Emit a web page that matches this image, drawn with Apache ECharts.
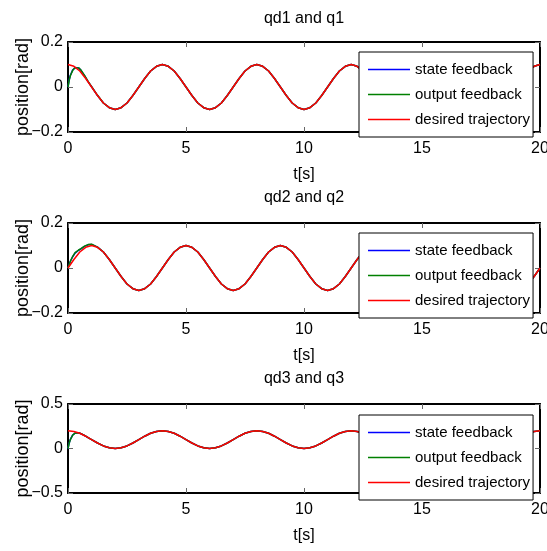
<!DOCTYPE html>
<html lang="en">
<head>
<meta charset="UTF-8">
<title>qd and q</title>
<script src="https://cdn.jsdelivr.net/npm/echarts@6/dist/echarts.min.js"></script>
<style>
    html, body {margin: 0; padding: 0; background: #fff;}
    #main {width: 547px; height: 551px;}
</style>
</head>
<body>
<div id="main"></div>
<script>
    // time axis of the desired trajectories, step 0.25 s
    const t = [
        0, 0.25, 0.5, 0.75, 1, 1.25, 1.5, 1.75, 2, 2.25, 2.5, 2.75, 3, 3.25, 3.5, 3.75,
        4, 4.25, 4.5, 4.75, 5, 5.25, 5.5, 5.75, 6, 6.25, 6.5, 6.75, 7, 7.25, 7.5, 7.75,
        8, 8.25, 8.5, 8.75, 9, 9.25, 9.5, 9.75, 10, 10.25, 10.5, 10.75, 11, 11.25, 11.5, 11.75,
        12, 12.25, 12.5, 12.75, 13, 13.25, 13.5, 13.75, 14, 14.25, 14.5, 14.75, 15, 15.25, 15.5, 15.75,
        16, 16.25, 16.5, 16.75, 17, 17.25, 17.5, 17.75, 18, 18.25, 18.5, 18.75, 19, 19.25, 19.5, 19.75,
        20
    ];
    const qd1 = [
        0.1, 0.092, 0.071, 0.038, 0, -0.038, -0.071, -0.092, -0.1, -0.092, -0.071, -0.038, 0, 0.038, 0.071, 0.092,
        0.1, 0.092, 0.071, 0.038, 0, -0.038, -0.071, -0.092, -0.1, -0.092, -0.071, -0.038, 0, 0.038, 0.071, 0.092,
        0.1, 0.092, 0.071, 0.038, 0, -0.038, -0.071, -0.092, -0.1, -0.092, -0.071, -0.038, 0, 0.038, 0.071, 0.092,
        0.1, 0.092, 0.071, 0.038, 0, -0.038, -0.071, -0.092, -0.1, -0.092, -0.071, -0.038, 0, 0.038, 0.071, 0.092,
        0.1, 0.092, 0.071, 0.038, 0, -0.038, -0.071, -0.092, -0.1, -0.092, -0.071, -0.038, 0, 0.038, 0.071, 0.092,
        0.1
    ];
    const qd2 = [
        0, 0.038, 0.071, 0.092, 0.1, 0.092, 0.071, 0.038, 0, -0.038, -0.071, -0.092, -0.1, -0.092, -0.071, -0.038,
        0, 0.038, 0.071, 0.092, 0.1, 0.092, 0.071, 0.038, 0, -0.038, -0.071, -0.092, -0.1, -0.092, -0.071, -0.038,
        0, 0.038, 0.071, 0.092, 0.1, 0.092, 0.071, 0.038, 0, -0.038, -0.071, -0.092, -0.1, -0.092, -0.071, -0.038,
        0, 0.038, 0.071, 0.092, 0.1, 0.092, 0.071, 0.038, 0, -0.038, -0.071, -0.092, -0.1, -0.092, -0.071, -0.038,
        0, 0.038, 0.071, 0.092, 0.1, 0.092, 0.071, 0.038, 0, -0.038, -0.071, -0.092, -0.1, -0.092, -0.071, -0.038,
        0
    ];
    const qd3 = [
        0.2, 0.192, 0.171, 0.138, 0.1, 0.062, 0.029, 0.008, 0, 0.008, 0.029, 0.062, 0.1, 0.138, 0.171, 0.192,
        0.2, 0.192, 0.171, 0.138, 0.1, 0.062, 0.029, 0.008, 0, 0.008, 0.029, 0.062, 0.1, 0.138, 0.171, 0.192,
        0.2, 0.192, 0.171, 0.138, 0.1, 0.062, 0.029, 0.008, 0, 0.008, 0.029, 0.062, 0.1, 0.138, 0.171, 0.192,
        0.2, 0.192, 0.171, 0.138, 0.1, 0.062, 0.029, 0.008, 0, 0.008, 0.029, 0.062, 0.1, 0.138, 0.171, 0.192,
        0.2, 0.192, 0.171, 0.138, 0.1, 0.062, 0.029, 0.008, 0, 0.008, 0.029, 0.062, 0.1, 0.138, 0.171, 0.192,
        0.2
    ];

    // start-up of the feedback responses (after that they lie on the desired curve)
    const tStart = [0, 0.05, 0.1, 0.2, 0.3, 0.36, 0.45, 0.55, 0.7, 0.85, 1, 1.25];
    const q1State  = [0, 0.032, 0.052, 0.076, 0.087, 0.09, 0.085, 0.074, 0.05, 0.024, 0.001, -0.038];
    const q1Output = [0, 0.03, 0.05, 0.074, 0.086, 0.09, 0.085, 0.075, 0.052, 0.025, 0.002, -0.037];
    const q2State  = [0, 0.015, 0.03, 0.05, 0.066, 0.074, 0.079, 0.085, 0.096, 0.103, 0.105, 0.093];
    const q2Output = [0, 0.015, 0.03, 0.052, 0.068, 0.075, 0.08, 0.086, 0.097, 0.104, 0.106, 0.093];
    const q3State  = [0, 0.062, 0.102, 0.152, 0.173, 0.18, 0.177, 0.166, 0.146, 0.122, 0.1, 0.062];
    const q3Output = [0, 0.06, 0.1, 0.15, 0.172, 0.18, 0.178, 0.167, 0.147, 0.122, 0.1, 0.062];

    const titles = ['qd1 and q1', 'qd2 and q2', 'qd3 and q3'];
    const legendNames = ['state feedback', 'output feedback', 'desired trajectory'];
    const yMin = [-0.2, -0.2, -0.5];
    const yMax = [0.2, 0.2, 0.5];
    const yStep = [0.2, 0.2, 0.5];

    const font = "'Liberation Sans', Arial, sans-serif";
    const gridTop = [42, 223, 404];
    const gridH = [90, 90, 89];
    const legendTop = [52, 233, 415];
    const titleTop = [11, 190, 371];

    function pairs(ts, vs) {
        return ts.map((x, i) => [x, vs[i]]);
    }
    // start-up part followed by the desired points after it
    function response(ts, vs, des) {
        const end = ts[ts.length - 1];
        return pairs(ts, vs).concat(pairs(t, des).filter(p => p[0] > end));
    }

    const desired = [qd1, qd2, qd3];
    const state = [q1State, q2State, q3State];
    const output = [q1Output, q2Output, q3Output];
    const colors = ['#0000ff', '#008000', '#ff0000'];

    const option = {
        animation: false,
        backgroundColor: '#fff',
        title: [], grid: [], xAxis: [], yAxis: [], legend: [], series: []
    };

    const tick = {inside: true, length: 5, lineStyle: {color: '#666', width: 1}};
    const border = {show: true, onZero: false, lineStyle: {color: '#000', width: 2}};

    for (let i = 0; i < 3; i++) {
        option.title.push({
            text: titles[i], left: 304, top: titleTop[i], textAlign: 'center', padding: 0,
            textStyle: {fontFamily: font, fontSize: 16, fontWeight: 'normal', color: '#000'}
        });
        option.grid.push({
            left: 68, top: gridTop[i], width: 472, height: gridH[i],
            outerBoundsMode: 'none', containLabel: false
        });
        // bottom and left axes carry the labels
        option.xAxis.push({
            gridIndex: i, type: 'value', min: 0, max: 20, interval: 5,
            axisLine: border, axisTick: tick, splitLine: {show: false},
            axisLabel: {color: '#000', fontFamily: font, fontSize: 16, margin: 9},
            name: 't[s]', nameLocation: 'middle', nameGap: 35, nameMoveOverlap: false,
            nameTextStyle: {color: '#000', fontFamily: font, fontSize: 16}
        });
        option.yAxis.push({
            gridIndex: i, type: 'value', min: yMin[i], max: yMax[i], interval: yStep[i],
            axisLine: border, axisTick: tick, splitLine: {show: false},
            axisLabel: {
                color: '#000', fontFamily: font, fontSize: 16, margin: 5,
                formatter: v => (v === 0 ? '0' : String(v).replace('-', '\u2212'))
            },
            name: 'position[rad]', nameLocation: 'middle', nameGap: 36, nameMoveOverlap: false,
            nameTextStyle: {color: '#000', fontFamily: font, fontSize: 18}
        });
        option.legend.push({
            left: 359, top: legendTop[i], orient: 'vertical',
            data: legendNames.map(n => ({name: n, icon: 'rect'})),
            backgroundColor: '#fff', borderColor: '#000', borderWidth: 1,
            padding: [9, 3, 9, 9], itemWidth: 42, itemHeight: 1.5, itemGap: 8,
            selectedMode: false,
            textStyle: {fontFamily: font, fontSize: 15, color: '#000', lineHeight: 17}
        });
        const lines = [response(tStart, state[i], desired[i]), response(tStart, output[i], desired[i]), pairs(t, desired[i])];
        for (let k = 0; k < 3; k++) {
            option.series.push({
                name: legendNames[k], type: 'line', xAxisIndex: i, yAxisIndex: i,
                data: lines[k], symbol: 'none',
                lineStyle: {color: colors[k], width: 1.5}, itemStyle: {color: colors[k]}
            });
        }
    }
    // top and right axes close the box, ticks only
    for (let i = 0; i < 3; i++) {
        option.xAxis.push({
            gridIndex: i, type: 'value', position: 'top', min: 0, max: 20, interval: 5,
            axisLine: border, axisTick: tick, axisLabel: {show: false}, splitLine: {show: false}
        });
        option.yAxis.push({
            gridIndex: i, type: 'value', position: 'right', min: yMin[i], max: yMax[i], interval: yStep[i],
            axisLine: border, axisTick: tick, axisLabel: {show: false}, splitLine: {show: false}
        });
    }

    const chart = echarts.init(document.getElementById('main'));
    chart.setOption(option);
</script>
</body>
</html>
